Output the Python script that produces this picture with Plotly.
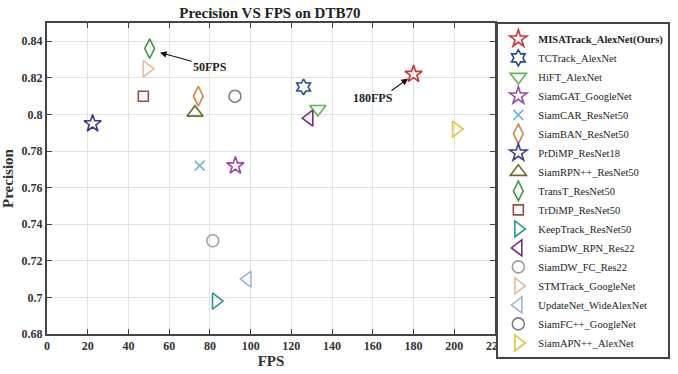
import plotly.graph_objects as go

names = ["<b>MISATrack_AlexNet(Ours)</b>", "TCTrack_AlexNet", "HiFT_AlexNet", "SiamGAT_GoogleNet",
         "SiamCAR_ResNet50", "SiamBAN_ResNet50", "PrDiMP_ResNet18", "SiamRPN++_ResNet50",
         "TransT_ResNet50", "TrDiMP_ResNet50", "KeepTrack_ResNet50", "SiamDW_RPN_Res22",
         "SiamDW_FC_Res22", "STMTrack_GoogleNet", "UpdateNet_WideAlexNet", "SiamFC++_GoogleNet",
         "SiamAPN++_AlexNet"]
fps = [180, 126, 133, 92.5, 75, 74.3, 22.4, 72.7, 50.4, 47.3, 83, 128.8, 81.4, 49, 98.4, 92.3, 200.9]
precision = [0.822, 0.815, 0.803, 0.772, 0.772, 0.810, 0.795, 0.801, 0.836, 0.810, 0.698, 0.798,
             0.731, 0.825, 0.710, 0.810, 0.792]
symbols = ["star-open", "hexagram-open", "triangle-down-open", "star-open", "x-thin-open",
           "diamond-tall-open", "star-open", "triangle-up-open", "diamond-tall-open", "square-open",
           "triangle-right-open", "triangle-left-open", "circle-open", "triangle-right-open",
           "triangle-left-open", "circle-open", "triangle-right-open"]
colors = ["#d62f2f", "#1f4f96", "#5cb848", "#9a4a9e", "#6cbcc4", "#d9843c", "#3f3a8c", "#6e6a2c",
          "#3f9a4a", "#a04848", "#2a9a94", "#7a2c80", "#a0a0a0", "#e8bc98", "#98b8d8", "#808080",
          "#e2c43a"]
sizes = [13, 12, 14, 13, 10, 14, 13, 14, 14, 10, 14, 14, 12, 14, 14, 12, 14]

fig = go.Figure()
for n, x, y, s, c, sz in zip(names, fps, precision, symbols, colors, sizes):
    fig.add_trace(go.Scatter(x=[x], y=[y], mode="markers", name=n,
                             marker=dict(symbol=s, size=sz, color=c,
                                         line=dict(color=c, width=1.6))))

font = "Liberation Serif, Times New Roman, serif"
fig.add_annotation(x=55.5, y=0.8338, ax=33, ay=9, text="", showarrow=True, arrowhead=2,
                   arrowsize=1.2, arrowwidth=1.1, arrowcolor="#111")
fig.add_annotation(x=177.3, y=0.8196, ax=-18, ay=13, text="", showarrow=True, arrowhead=2,
                   arrowsize=1.2, arrowwidth=1.1, arrowcolor="#111")
fig.add_annotation(x=80, y=0.8261, text="<b>50FPS</b>", showarrow=False,
                   font=dict(family=font, size=12, color="#222"))
fig.add_annotation(x=160.1, y=0.8091, text="<b>180FPS</b>", showarrow=False,
                   font=dict(family=font, size=12, color="#222"))

axis_common = dict(showline=True, linecolor="#444", linewidth=2, mirror="ticks", ticks="inside",
                   ticklen=5, tickcolor="#444", showgrid=True, gridcolor="#e2e2e2", gridwidth=1,
                   zeroline=False, automargin=False, tickfont=dict(family=font, size=12, color="#333"))
fig.update_xaxes(range=[0, 220], tickvals=list(range(0, 221, 20)),
                 ticktext=[f"<b>{v}</b>" for v in range(0, 221, 20)],
                 title=dict(text="<b>FPS</b>", font=dict(family=font, size=15, color="#333"), standoff=2),
                 **axis_common)
fig.update_yaxes(range=[0.68, 0.85], tickvals=[0.68, 0.7, 0.72, 0.74, 0.76, 0.78, 0.8, 0.82, 0.84],
                 ticktext=["<b>0.68</b>", "<b>0.7</b>", "<b>0.72</b>", "<b>0.74</b>", "<b>0.76</b>",
                           "<b>0.78</b>", "<b>0.8</b>", "<b>0.82</b>", "<b>0.84</b>"],
                 title=dict(text="<b>Precision</b>", font=dict(family=font, size=15, color="#333"), standoff=4),
                 **axis_common)

fig.update_layout(
    width=678, height=374,
    margin=dict(l=47, r=183, t=23, b=40, autoexpand=False),
    plot_bgcolor="white", paper_bgcolor="white",
    title=dict(text="<b>Precision VS FPS on DTB70</b>", x=0.398, xanchor="center", y=0.966, yanchor="middle",
               font=dict(family=font, size=15, color="#222")),
    legend=dict(x=1.003, y=1.002, xanchor="left", yanchor="top", bordercolor="#444", borderwidth=2,
                font=dict(family=font, size=10.5, color="#222"), itemsizing="trace",
                tracegroupgap=0, bgcolor="white", maxheight=360),
    showlegend=True,
)
fig.write_html("out.html", config={"displayModeBar": False},
               post_script="document.body.style.margin='0';")
